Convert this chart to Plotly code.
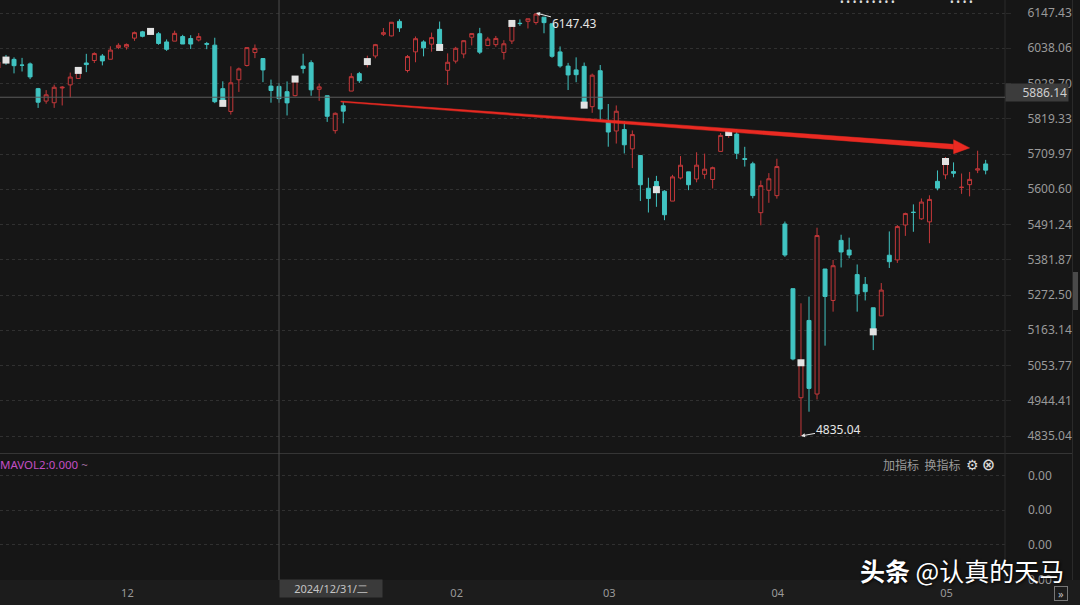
import plotly.graph_objects as go

# ---------------- data (S&P 500 daily) ----------------
dates = [
    "2024-11-08", "2024-11-11", "2024-11-12", "2024-11-13", "2024-11-14", "2024-11-15", "2024-11-18",
    "2024-11-19", "2024-11-20", "2024-11-21", "2024-11-22", "2024-11-25", "2024-11-26", "2024-11-27",
    "2024-11-29",
    "2024-12-02", "2024-12-03", "2024-12-04", "2024-12-05", "2024-12-06", "2024-12-09", "2024-12-10",
    "2024-12-11", "2024-12-12", "2024-12-13", "2024-12-16", "2024-12-17", "2024-12-18", "2024-12-19",
    "2024-12-20", "2024-12-23", "2024-12-24", "2024-12-26", "2024-12-27", "2024-12-30", "2024-12-31",
    "2025-01-02", "2025-01-03", "2025-01-06", "2025-01-07", "2025-01-08", "2025-01-10", "2025-01-13",
    "2025-01-14", "2025-01-15", "2025-01-16", "2025-01-17", "2025-01-21", "2025-01-22", "2025-01-23",
    "2025-01-24", "2025-01-27", "2025-01-28", "2025-01-29", "2025-01-30", "2025-01-31",
    "2025-02-03", "2025-02-04", "2025-02-05", "2025-02-06", "2025-02-07", "2025-02-10", "2025-02-11",
    "2025-02-12", "2025-02-13", "2025-02-14", "2025-02-18", "2025-02-19", "2025-02-20", "2025-02-21",
    "2025-02-24", "2025-02-25", "2025-02-26", "2025-02-27", "2025-02-28",
    "2025-03-03", "2025-03-04", "2025-03-05", "2025-03-06", "2025-03-07", "2025-03-10", "2025-03-11",
    "2025-03-12", "2025-03-13", "2025-03-14", "2025-03-17", "2025-03-18", "2025-03-19", "2025-03-20",
    "2025-03-21", "2025-03-24", "2025-03-25", "2025-03-26", "2025-03-27", "2025-03-28", "2025-03-31",
    "2025-04-01", "2025-04-02", "2025-04-03", "2025-04-04", "2025-04-07", "2025-04-08", "2025-04-09",
    "2025-04-10", "2025-04-11", "2025-04-14", "2025-04-15", "2025-04-16", "2025-04-17", "2025-04-21",
    "2025-04-22", "2025-04-23", "2025-04-24", "2025-04-25", "2025-04-28", "2025-04-29", "2025-04-30",
    "2025-05-01", "2025-05-02", "2025-05-05", "2025-05-06", "2025-05-07", "2025-05-08", "2025-05-09",
]

opens = [
    5976.76, 6008.86, 6003.60, 5985.75, 5989.58, 5912.79, 5874.17, 5869.00, 5914.83, 5924.37, 5944.36,
    5992.28, 6000.03, 6014.11, 6003.98,
    6040.11, 6041.94, 6069.39, 6089.03, 6081.38, 6083.01, 6057.59, 6060.15, 6074.29, 6068.17, 6063.79,
    6052.55, 6047.65, 5912.71, 5842.00, 5940.25, 5984.63, 6024.97, 6006.17, 5920.67, 5919.74,
    5903.26, 5891.07, 5982.81, 5993.26, 5910.66, 5890.66, 5782.34, 5859.62, 5905.21, 5959.30, 5995.79,
    6014.12, 6081.39, 6076.32, 6121.43, 5969.04, 6026.97, 6057.70, 6050.75, 6096.79,
    5969.65, 5998.14, 6020.45, 6072.22, 6083.13, 6046.40, 6049.32, 6025.08, 6060.59, 6115.52, 6121.60,
    6117.76, 6134.50, 6114.10, 6026.69, 5982.73, 5970.87, 5981.88, 5856.74,
    5968.33, 5811.98, 5781.38, 5785.87, 5726.01, 5705.37, 5603.65, 5624.84, 5594.45, 5563.85, 5635.60,
    5654.53, 5632.37, 5646.92, 5630.73, 5718.08, 5775.05, 5771.66, 5695.64, 5679.44, 5527.91,
    5597.53, 5580.76, 5492.74, 5292.14, 4953.79, 5193.57, 4965.28, 5353.15, 5255.56, 5441.96, 5411.99,
    5335.75, 5305.45, 5232.94, 5207.67, 5395.92, 5381.38, 5489.69, 5529.22, 5508.87, 5499.44,
    5625.14, 5645.37, 5655.32, 5605.88, 5614.86, 5660.00, 5679.16,
]

highs = [
    6012.45, 6017.31, 6009.92, 6008.19, 5993.88, 5915.07, 5908.12, 5925.06, 5920.67, 5962.52, 5972.90,
    6020.75, 6025.42, 6020.16, 6044.17,
    6053.58, 6052.94, 6089.84, 6092.00, 6099.97, 6088.51, 6065.40, 6092.59, 6079.68, 6078.58, 6085.19,
    6057.68, 6070.67, 5935.52, 5982.06, 5978.25, 6040.10, 6049.75, 6006.17, 5940.79, 5929.74,
    5935.09, 5949.34, 6021.04, 6000.68, 5927.89, 5890.66, 5838.99, 5871.92, 5960.61, 5964.69, 6014.96,
    6051.51, 6100.81, 6118.73, 6128.18, 6017.17, 6074.54, 6062.83, 6086.64, 6120.91,
    6022.13, 6042.48, 6062.86, 6084.03, 6101.28, 6073.38, 6076.28, 6063.10, 6116.91, 6127.47, 6129.63,
    6147.43, 6134.50, 6114.82, 6043.65, 5992.65, 6009.82, 5993.69, 5959.40,
    5986.09, 5865.08, 5860.59, 5812.08, 5783.01, 5705.37, 5636.30, 5642.19, 5597.78, 5645.27, 5703.52,
    5654.53, 5715.33, 5711.15, 5670.84, 5775.14, 5783.84, 5786.95, 5732.30, 5685.89, 5627.56,
    5650.57, 5695.31, 5500.41, 5292.14, 5246.68, 5267.47, 5481.34, 5353.15, 5381.46, 5459.46, 5450.41,
    5367.24, 5328.31, 5232.94, 5309.60, 5469.69, 5489.40, 5528.11, 5553.66, 5571.95, 5581.84,
    5658.91, 5700.70, 5683.98, 5649.40, 5654.32, 5720.10, 5691.68,
]

lows = [
    5976.76, 5986.69, 5960.08, 5965.91, 5942.28, 5853.01, 5865.95, 5853.02, 5860.58, 5885.14, 5944.36,
    5963.91, 5992.27, 5984.87, 6003.98,
    6035.33, 6033.91, 6061.06, 6072.00, 6079.98, 6048.63, 6029.89, 6060.15, 6051.25, 6035.77, 6059.14,
    6035.19, 5867.79, 5866.07, 5832.30, 5902.57, 5981.44, 6007.37, 5932.95, 5869.16, 5868.86,
    5829.53, 5888.66, 5960.01, 5890.68, 5874.78, 5809.55, 5773.31, 5805.31, 5905.21, 5930.58, 5978.44,
    6006.88, 6076.13, 6074.67, 6088.74, 5962.92, 5994.63, 6012.96, 6027.46, 6030.93,
    5923.93, 5990.87, 6007.06, 6046.83, 6019.96, 6044.84, 6042.34, 6003.00, 6051.20, 6107.62, 6099.51,
    6111.15, 6084.59, 6008.56, 5977.83, 5908.49, 5932.69, 5858.78, 5837.66,
    5810.91, 5732.59, 5742.35, 5711.64, 5666.29, 5564.02, 5528.41, 5546.09, 5504.65, 5563.85, 5631.12,
    5597.76, 5622.20, 5632.83, 5603.10, 5718.08, 5759.95, 5694.20, 5670.94, 5572.42, 5488.73,
    5558.52, 5571.48, 5390.83, 5069.90, 4835.04, 4910.42, 4948.43, 5115.27, 5220.77, 5358.02, 5386.44,
    5220.79, 5255.58, 5101.63, 5207.67, 5356.44, 5371.96, 5455.86, 5468.64, 5505.70, 5433.24,
    5597.35, 5631.75, 5637.67, 5586.36, 5578.64, 5650.58, 5646.82,
]

closes = [
    5995.54, 6001.35, 5983.99, 5985.38, 5949.17, 5870.62, 5893.62, 5916.98, 5917.11, 5948.71, 5969.34,
    5987.37, 6021.63, 5998.74, 6032.38,
    6047.15, 6049.88, 6086.49, 6075.11, 6090.27, 6052.85, 6034.91, 6084.19, 6051.25, 6051.09, 6074.08,
    6050.61, 5872.16, 5867.08, 5930.85, 5974.07, 6040.04, 6037.59, 5970.84, 5906.94, 5881.63,
    5868.55, 5942.47, 5975.38, 5909.03, 5918.25, 5827.04, 5836.22, 5842.91, 5949.91, 5937.34, 5996.66,
    6049.24, 6086.37, 6118.71, 6101.24, 6012.28, 6067.70, 6039.31, 6071.17, 6040.53,
    5994.57, 6037.88, 6061.48, 6083.57, 6025.99, 6066.44, 6068.50, 6051.97, 6115.07, 6114.63, 6129.58,
    6144.15, 6117.52, 6013.13, 5983.25, 5955.25, 5956.06, 5861.57, 5954.50,
    5849.72, 5778.15, 5842.63, 5738.52, 5770.20, 5614.56, 5572.07, 5599.30, 5521.52, 5638.94, 5675.12,
    5614.66, 5675.29, 5662.89, 5667.56, 5767.57, 5776.65, 5712.20, 5693.31, 5580.94, 5611.85,
    5633.07, 5670.97, 5396.52, 5074.08, 5062.25, 4982.77, 5456.90, 5268.05, 5363.36, 5405.97, 5396.63,
    5275.70, 5282.70, 5158.20, 5287.76, 5375.86, 5484.77, 5525.21, 5528.75, 5560.83, 5569.06,
    5604.14, 5686.67, 5650.38, 5606.91, 5631.28, 5663.94, 5659.91,
]

price_ticks = [6147.43, 6038.06, 5928.70, 5819.33, 5709.97, 5600.60, 5491.24,
               5381.87, 5272.50, 5163.14, 5053.77, 4944.41, 4835.04]
vol_ticks = [0, 1, 2, 3]
vol_tick_text = ["0.00", "0.00", "0.00", "0.00"]

crosshair_date = "2024-12-31"
crosshair_price = 5886.14
crosshair_label = "2024/12/31/二"
trend_from = ("2025-01-14", 5871.92)
trend_through = ("2025-03-25", 5783.84)
trend_until = "2025-05-07"
mark_every = 9
mark_first = "2024-11-11"

# ---------------- styling / geometry ----------------
W, H = 1080, 605
PLOT_R = 1005            # right edge of plotting area (px)
MAIN_BOTTOM = 452
VOL_TOP, VOL_BOTTOM = 455, 580
BG = "#161616"
RED = "#c4383a"
CYAN = "#40c4c2"
ARROW_RED = "#ea2a22"
GRID = "#303030"
TXT = "#9a9a9a"
FONT = "Noto Sans"

def py(px):
    return 1 - px / H

def pxx(px):
    return px / PLOT_R

n = len(dates)
xs = list(range(n))
pos = {d: i for i, d in enumerate(dates)}

STEP = 8.03                 # px per candle
X0_PX = -2.03               # pixel of first candle
x_range = [(0 - X0_PX) / STEP, (PLOT_R - X0_PX) / STEP]

PPX = (price_ticks[0] - price_ticks[-1]) / 423.0     # price units per px
y_top = price_ticks[0] + 13 * PPX
y_bot = price_ticks[0] - (MAIN_BOTTOM - 13) * PPX

fig = go.Figure()

fig.add_trace(go.Candlestick(
    x=xs, open=opens, high=highs, low=lows, close=closes,
    increasing=dict(line=dict(color=RED, width=1), fillcolor=BG),
    decreasing=dict(line=dict(color=CYAN, width=1), fillcolor=CYAN),
    whiskerwidth=0, showlegend=False, hoverinfo="skip",
    xaxis="x", yaxis="y",
))

# light square markers every 9th bar at the close
k_first = pos[mark_first]
mk = [i for i in xs if i >= k_first and (i - k_first) % mark_every == 0]
fig.add_trace(go.Scatter(
    x=mk, y=[closes[i] for i in mk], mode="markers",
    marker=dict(symbol="square", size=7, color="#e2e2e2", line=dict(width=0)),
    showlegend=False, hoverinfo="skip", xaxis="x", yaxis="y",
))

# tapered red trend arrow (through two highs)
k0, p0 = pos[trend_from[0]], trend_from[1]
k1, p1 = pos[trend_through[0]], trend_through[1]
slope = (p1 - p0) / (k1 - k0)
k_tip = pos[trend_until]
k_base = k_tip - 16 / STEP
k_start = k0 - 0.3

def tl(k):
    return p0 + slope * (k - k0)

w0, w1 = 0.5 * PPX, 2.4 * PPX
fig.add_trace(go.Scatter(
    x=[k_start, k_base, k_base, k_start, k_start],
    y=[tl(k_start) + w0, tl(k_base) + w1, tl(k_base) - w1, tl(k_start) - w0, tl(k_start) + w0],
    fill="toself", fillcolor=ARROW_RED, mode="lines", line=dict(width=0.5, color=ARROW_RED),
    showlegend=False, hoverinfo="skip", xaxis="x", yaxis="y",
))
hh = 7 * PPX
fig.add_trace(go.Scatter(
    x=[k_base, k_tip, k_base, k_base],
    y=[tl(k_base) + hh, tl(k_tip), tl(k_base) - hh, tl(k_base) + hh],
    fill="toself", fillcolor=ARROW_RED, mode="lines", line=dict(width=0.5, color=ARROW_RED),
    showlegend=False, hoverinfo="skip", xaxis="x", yaxis="y",
))

# invisible trace on the volume pane
fig.add_trace(go.Scatter(x=[xs[0]], y=[0], mode="markers", marker=dict(opacity=0),
                         showlegend=False, hoverinfo="skip", xaxis="x", yaxis="y2"))

# month ticks
mt_vals, mt_text = [], []
for i in range(1, n):
    if dates[i][5:7] != dates[i - 1][5:7]:
        mt_vals.append(i)
        mt_text.append(dates[i][5:7])

shapes = [
    # bottom strip
    dict(type="rect", xref="paper", yref="paper", x0=0, x1=pxx(W), y0=py(H), y1=py(VOL_BOTTOM),
         fillcolor="#1c1c1c", line=dict(width=0), layer="below"),
    # pane separator
    dict(type="line", xref="paper", yref="paper", x0=0, x1=pxx(1072), y0=py(453.5), y1=py(453.5),
         line=dict(color="#353535", width=1)),
    # right axis separator
    dict(type="line", xref="paper", yref="paper", x0=1, x1=1, y0=py(VOL_BOTTOM), y1=1,
         line=dict(color="#2a2a2a", width=1)),
    dict(type="line", xref="paper", yref="paper", x0=pxx(1072.5), x1=pxx(1072.5), y0=py(VOL_BOTTOM), y1=1,
         line=dict(color="#2a2a2a", width=1)),
    # scrollbar thumb
    dict(type="rect", xref="paper", yref="paper", x0=pxx(1073), x1=pxx(1078), y0=py(310), y1=py(272),
         fillcolor="#4a4a4a", line=dict(width=0)),
    # crosshair
    dict(type="line", xref="x", yref="paper", x0=pos[crosshair_date], x1=pos[crosshair_date],
         y0=py(VOL_BOTTOM), y1=1, line=dict(color="#4e4e4e", width=1)),
    dict(type="line", xref="paper", yref="y", x0=0, x1=1, y0=crosshair_price, y1=crosshair_price,
         line=dict(color="#5c5c5c", width=1)),
]

kh = max(xs, key=lambda i: highs[i])
kl = min(xs, key=lambda i: lows[i])

annotations = [
    dict(x=kh, y=highs[kh], xref="x", yref="y", text=f"{highs[kh]:.2f}", showarrow=True,
         ax=39, ay=10, arrowhead=2, arrowsize=0.8, arrowwidth=1, arrowcolor="#e6e6e6",
         font=dict(family=FONT, size=12, color="#e6e6e6")),
    dict(x=kl, y=lows[kl], xref="x", yref="y", text=f"{lows[kl]:.2f}", showarrow=True,
         ax=38, ay=-7, arrowhead=2, arrowsize=0.8, arrowwidth=1, arrowcolor="#e6e6e6",
         font=dict(family=FONT, size=12, color="#e6e6e6")),
    # crosshair labels
    dict(x=1, xref="paper", xanchor="left", y=crosshair_price, yref="y", yshift=5,
         text=f"{crosshair_price:.2f}", showarrow=False, bgcolor="#3c3c3c", width=60, height=15,
         align="right", font=dict(family=FONT, size=12, color="#cfcfcf")),
    dict(x=pos[crosshair_date], xref="x", xanchor="left", y=py(588.5), yref="paper", yanchor="middle",
         text=crosshair_label, showarrow=False, bgcolor="#3a3a3a", width=100, height=15,
         font=dict(family=FONT, size=11, color="#c4c4c4")),
    # indicator header
    dict(x=pxx(-2), xref="paper", xanchor="left", y=py(464), yref="paper", yanchor="middle",
         text="MAVOL2:0.000 <span style='color:#9a6a9a'>~</span>", showarrow=False,
         font=dict(family=FONT, size=11.5, color="#c24ec4")),
    dict(x=pxx(997), xref="paper", xanchor="right", y=py(464), yref="paper", yanchor="middle",
         text="加指标  换指标  <span style='color:#d8d8d8;font-size:14px'>⚙</span> "
              "<span style='color:#d8d8d8;font-size:14px'><b>⊗</b></span>",
         showarrow=False, font=dict(family="Noto Sans CJK SC", size=12, color=TXT)),
    # top clipped legend dots
    dict(x=pxx(897), xref="paper", y=py(1.5), yref="paper", yanchor="middle", showarrow=False,
         text="• • • • • • • • •", font=dict(family=FONT, size=10, color="#e0e0e0")),
    dict(x=pxx(975), xref="paper", y=py(1.5), yref="paper", yanchor="middle", showarrow=False,
         text="• • • •", font=dict(family=FONT, size=10, color="#e0e0e0")),
    # scroll button
    dict(x=pxx(1068), xref="paper", y=py(593), yref="paper", yanchor="middle", showarrow=False,
         text="»", bordercolor="#777", borderwidth=1, borderpad=0, width=12, height=13,
         font=dict(family=FONT, size=11, color="#bbbbbb")),
    # watermark
    dict(x=pxx(1066), xref="paper", xanchor="right", y=py(570), yref="paper", yanchor="middle",
         text="<b>头条</b> @认真的天马", showarrow=False,
         font=dict(family="Noto Sans CJK SC", size=25, color="#ffffff",
                   shadow="1px 1px 3px rgba(0,0,0,0.95)")),
]

fig.update_layout(
    width=W, height=H,
    margin=dict(l=0, r=W - PLOT_R, t=0, b=0, autoexpand=False),
    paper_bgcolor=BG, plot_bgcolor=BG,
    showlegend=False, hovermode=False,
    boxgap=0.3,
    xaxis=dict(range=x_range, anchor="y2", showgrid=False, zeroline=False, showline=False,
               tickvals=mt_vals, ticktext=mt_text, ticks="", ticklabelshift=9, ticklabelstandoff=5,
               tickfont=dict(family=FONT, size=11, color=TXT), rangeslider=dict(visible=False),
               fixedrange=True),
    yaxis=dict(domain=[py(MAIN_BOTTOM), 1], range=[y_bot, y_top], side="right",
               tickvals=price_ticks, ticktext=[f"{v:.2f}" for v in price_ticks],
               showgrid=True, gridcolor=GRID, griddash="dot", gridwidth=1, zeroline=False,
               ticks="outside", ticklen=5, tickcolor="#2a2a2a", ticklabelstandoff=14,
               tickfont=dict(family=FONT, size=12, color=TXT), anchor="x"),
    yaxis2=dict(domain=[py(VOL_BOTTOM), py(VOL_TOP)],
                range=[-0.5 / 34.67, 3 + 20.5 / 34.67], side="right",
                tickvals=vol_ticks, ticktext=vol_tick_text,
                showgrid=True, gridcolor=GRID, griddash="dot", gridwidth=1, zeroline=False,
                ticks="", ticklabelstandoff=22,
                tickfont=dict(family=FONT, size=12, color=TXT), anchor="x"),
    shapes=shapes,
    annotations=annotations,
)

fig.write_html("out.html", config={"displayModeBar": False},
               post_script="document.body.style.margin='0';document.body.style.overflow='hidden';")
